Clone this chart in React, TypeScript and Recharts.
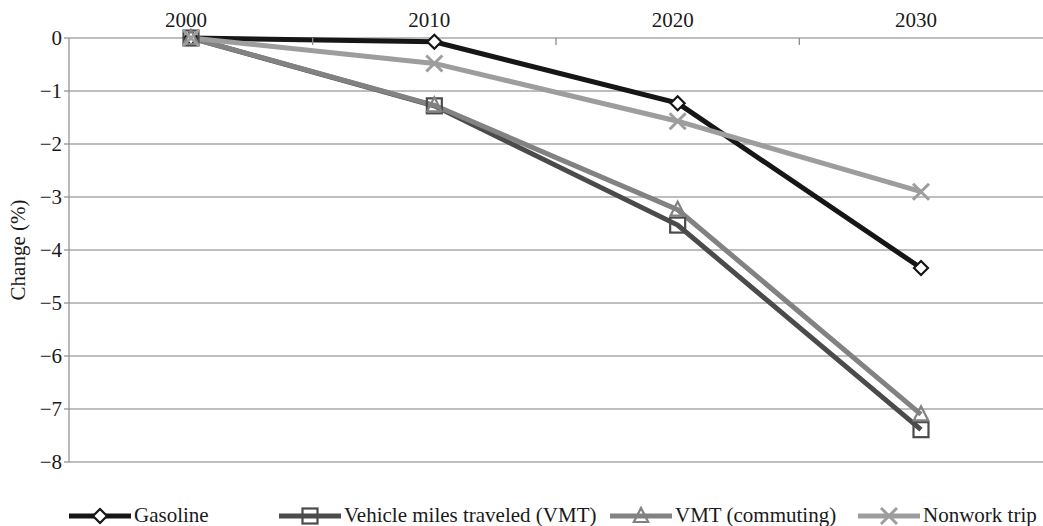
import React from 'react';
import { LineChart, Line, XAxis, YAxis, CartesianGrid } from 'recharts';

const years = ['2000', '2010', '2020', '2030'];
const gasoline = [0, -0.07, -1.23, -4.34];
const vmt = [0, -1.28, -3.53, -7.39];
const vmtCommuting = [0, -1.27, -3.24, -7.1];
const nonwork = [0, -0.48, -1.57, -2.9];
const yTicks = [-8, -7, -6, -5, -4, -3, -2, -1, 0];
const seriesNames = ['Gasoline', 'Vehicle miles traveled (VMT)', 'VMT (commuting)', 'Nonwork trip'];

const data = years.map((y, i) => ({
  year: y,
  gasoline: gasoline[i],
  vmt: vmt[i],
  vmtCommuting: vmtCommuting[i],
  nonwork: nonwork[i],
}));

const FONT = '"Liberation Serif", "Times New Roman", serif';
const colors = ['#161616', '#4b4b4b', '#828282', '#9d9d9d'];
const X_PAD = 122;

type MarkerKind = 'diamond' | 'square' | 'triangle' | 'cross';

function Marker({ kind, cx, cy, color }: { kind: MarkerKind; cx: number; cy: number; color: string }) {
  if (kind === 'diamond') {
    const r = 7;
    return <polygon points={`${cx},${cy - r} ${cx + r},${cy} ${cx},${cy + r} ${cx - r},${cy}`} fill="#fff" stroke={color} strokeWidth={2.2} />;
  }
  if (kind === 'square') {
    const r = 7.5;
    return <rect x={cx - r} y={cy - r} width={2 * r} height={2 * r} fill="none" stroke={color} strokeWidth={2.2} />;
  }
  if (kind === 'triangle') {
    const r = 8;
    return <polygon points={`${cx},${cy - r} ${cx + r * 0.9},${cy + r * 0.75} ${cx - r * 0.9},${cy + r * 0.75}`} fill="none" stroke={color} strokeWidth={2.2} />;
  }
  const r = 8;
  return (
    <g stroke={color} strokeWidth={3}>
      <line x1={cx - r} y1={cy - r} x2={cx + r} y2={cy + r} />
      <line x1={cx - r} y1={cy + r} x2={cx + r} y2={cy - r} />
    </g>
  );
}

const kinds: MarkerKind[] = ['diamond', 'square', 'triangle', 'cross'];
const keys = ['gasoline', 'vmt', 'vmtCommuting', 'nonwork'];

const makeDot = (kind: MarkerKind, color: string) => (props: any) => {
  const { cx, cy, index } = props;
  if (cx == null || cy == null) return <g key={index} />;
  return <Marker key={`${kind}-${index}`} kind={kind} cx={cx} cy={cy} color={color} />;
};

const legendLefts = [69, 279, 610, 858];
const legendIconW = 62;

function ChartLegend() {
  return (
    <div style={{ position: 'absolute', left: 0, top: 502, width: 1043, height: 26 }}>
      {seriesNames.map((name, i) => (
        <div key={name} style={{ position: 'absolute', left: legendLefts[i], top: 0, display: 'flex', alignItems: 'center', height: 26, whiteSpace: 'nowrap' }}>
          <svg width={legendIconW} height={24} style={{ display: 'block' }}>
            <line x1={0} y1={13} x2={legendIconW} y2={13} stroke={colors[i]} strokeWidth={5} />
            <Marker kind={kinds[i]} cx={legendIconW / 2} cy={13} color={colors[i]} />
          </svg>
          <span style={{ fontFamily: FONT, fontSize: 21, color: '#1a1a1a', marginLeft: 3, lineHeight: '26px' }}>{name}</span>
        </div>
      ))}
    </div>
  );
}

const YLabel = (props: any) => {
  const vb = props.viewBox || { x: 0, y: 38, width: 69, height: 424 };
  const x = vb.x + 18;
  const y = vb.y + vb.height / 2;
  return (
    <text x={x} y={y} transform={`rotate(-90 ${x} ${y})`} textAnchor="middle" dominantBaseline="central" fontFamily={FONT} fontSize={21} fill="#1a1a1a">
      Change (%)
    </text>
  );
};

const TopTick = (props: any) => {
  const { x, y, payload, index, width } = props;
  const step = ((width || 974) - 2 * X_PAD) / (years.length - 1);
  const lineY = y + 11;
  return (
    <g>
      <text x={x - 5} y={y} textAnchor="middle" fontFamily={FONT} fontSize={21} fill="#1a1a1a">
        {payload.value}
      </text>
      {index < years.length - 1 && (
        <line x1={x + step / 2} y1={lineY} x2={x + step / 2} y2={lineY + 7} stroke="#8c8c8c" strokeWidth={1.3} />
      )}
    </g>
  );
};

export default function App() {
  return (
    <div style={{ position: 'absolute', left: 0, top: 0, width: 1043, height: 526, background: '#fff' }}>
      <LineChart width={1043} height={526} data={data} margin={{ top: 0, right: 0, left: 0, bottom: 64 }}>
        <CartesianGrid vertical={false} stroke="#a8a8a8" strokeWidth={1.5} />
        <XAxis
          dataKey="year"
          orientation="top"
          height={38}
          padding={{ left: X_PAD, right: X_PAD }}
          axisLine={false}
          tickLine={false}
          tickSize={0}
          tickMargin={11}
          interval={0}
          tick={<TopTick />}
        />
        <YAxis
          width={69}
          domain={[-8, 0]}
          ticks={yTicks}
          interval={0}
          axisLine={{ stroke: '#8c8c8c', strokeWidth: 1.2 }}
          tickLine={{ stroke: '#8c8c8c', strokeWidth: 1.2 }}
          tickSize={5}
          tickMargin={2}
          tickFormatter={(v: number) => String(v).replace('-', '\u2212')}
          tick={{ fontFamily: FONT, fontSize: 21, fill: '#1a1a1a' }}
          label={<YLabel />}
        />
        {keys.map((k, i) => (
          <Line
            key={k}
            type="linear"
            dataKey={k}
            name={seriesNames[i]}
            stroke={colors[i]}
            strokeWidth={5}
            dot={makeDot(kinds[i], colors[i])}
            activeDot={false}
            isAnimationActive={false}
          />
        ))}
      </LineChart>
      <ChartLegend />
    </div>
  );
}
